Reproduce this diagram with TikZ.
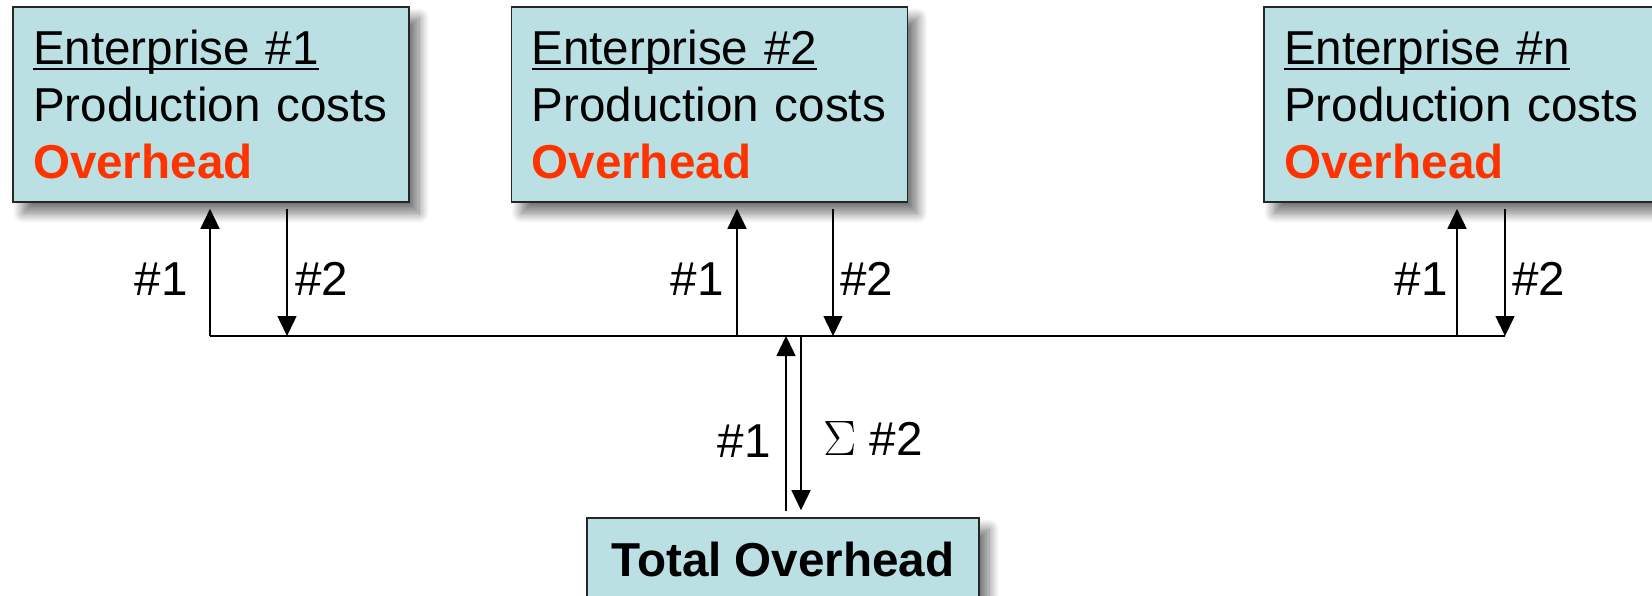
\documentclass[tikz,border=0pt]{standalone}
\usepackage{fontspec}
\setmainfont{Liberation Sans}
\usetikzlibrary{arrows.meta,shadows.blur}

\definecolor{boxfill}{RGB}{186,224,227}
\definecolor{ohred}{RGB}{255,51,0}

% underline drawn at a fixed depth below the baseline
\newcommand\entul[1]{\setbox0\hbox{#1}\rlap{\rule[-2.7pt]{\wd0}{1.1pt}}\box0}

\tikzset{
  entbox/.style={draw=black!85, line width=0.8pt, fill=boxfill, rectangle,
    minimum width=198pt, minimum height=97.5pt, inner xsep=10pt, inner ysep=0pt,
    text width=178pt, align=left,
    font=\fontsize{23.8pt}{28.5pt}\selectfont,
    blur shadow={shadow xshift=5pt, shadow yshift=-5.5pt, shadow blur radius=5pt,
      shadow blur steps=12, shadow opacity=55}},
  totbox/.style={entbox, minimum width=196pt, minimum height=41pt, text width=,
    align=center, inner xsep=0pt},
  arr/.style={line width=0.75pt, -{Triangle[width=9.5pt,length=10pt]}},
  bus/.style={line width=0.75pt},
  lab/.style={inner sep=0pt, font=\fontsize{23.8pt}{28.5pt}\selectfont}
}

\begin{document}
\begin{tikzpicture}[x=0.5pt,y=-0.5pt]
\useasboundingbox (0,0) rectangle (1652,595);

% enterprise boxes
\node[entbox] (e1) at (211,104.5)
  {\entul{Enterprise \#1}\\\mbox{Production costs}\\\textcolor{ohred}{\bfseries Overhead}};
\node[entbox] (e2) at (709.5,104.5)
  {\entul{Enterprise \#2}\\\mbox{Production costs}\\\textcolor{ohred}{\bfseries Overhead}};
\node[entbox] (en) at (1462,104.5)
  {\entul{Enterprise \#n}\\\mbox{Production costs}\\\textcolor{ohred}{\bfseries Overhead}};

% total box
\node[totbox] (tot) at (783,559) {\bfseries Total Overhead};

% junction points on the bus
\coordinate (b1u) at (210,336);
\coordinate (b1d) at (287,336);
\coordinate (b2u) at (737,336);
\coordinate (b2d) at (833,336);
\coordinate (bnu) at (1457,336);
\coordinate (bnd) at (1505,336);
\coordinate (tu)  at (786,336);
\coordinate (td)  at (801,336);

% bus line
\draw[bus] (b1u) -- (bnd);

% flows to and from the enterprises
\draw[arr, shorten >=3pt] (b1u) -- (b1u |- e1.south);
\draw[arr, shorten <=3pt] (b1d |- e1.south) -- (b1d);
\draw[arr, shorten >=3pt] (b2u) -- (b2u |- e2.south);
\draw[arr, shorten <=3pt] (b2d |- e2.south) -- (b2d);
\draw[arr, shorten >=3pt] (bnu) -- (bnu |- en.south);
\draw[arr, shorten <=3pt] (bnd |- en.south) -- (bnd);

% flows to and from the total
\draw[arr, shorten <=3pt] (tu |- tot.north) -- (tu);
\draw[arr, shorten >=3.5pt] (td) -- (td |- tot.north);

% labels
\node[lab, anchor=base east] (l1a) at (188,295) {\#1};
\node[lab, anchor=base west] (l1b) at (295,295) {\#2};
\node[lab, anchor=base east] (l2a) at (724,295) {\#1};
\node[lab, anchor=base west] (l2b) at (840,295) {\#2};
\node[lab, anchor=base east] (lna) at (1448,295) {\#1};
\node[lab, anchor=base west] (lnb) at (1512,295) {\#2};
\node[lab, anchor=base east] (lta) at (771,457) {\#1};
\node[lab, anchor=base west] (ltb) at (823,455) {$\Sigma$ \#2};
\end{tikzpicture}
\end{document}
